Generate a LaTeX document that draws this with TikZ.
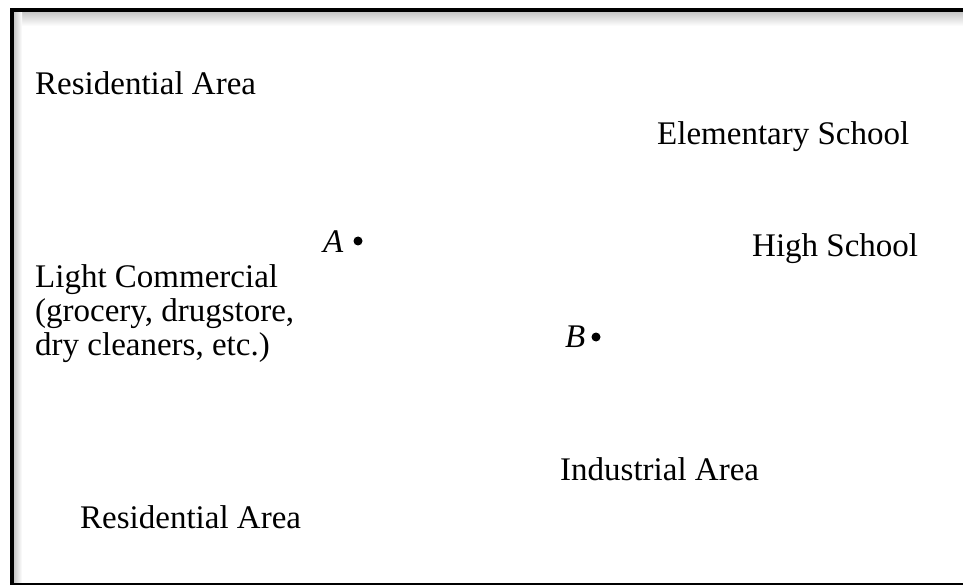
\documentclass[tikz,border=0pt]{standalone}
\usepackage{fontspec}
\setmainfont{Liberation Serif}
\usepackage{tikz}
\usetikzlibrary{positioning}

\begin{document}
\begin{tikzpicture}[
    x=1pt, y=-1pt,
    area/.style={anchor=base west, inner sep=0pt, align=left,
                 font=\fontsize{33}{34}\selectfont},
    site/.style={circle, fill=black, inner sep=0pt, minimum size=9pt},
    frame/.style={line width=#1, color=black}
]
\useasboundingbox (0,0) rectangle (963,585);

%% Frame with inner shadow
\shade[top color=black!22, bottom color=white] (14,12) rectangle (963,26);
\shade[left color=black!22, right color=white] (14,12) rectangle (22,584);
\draw[frame=4pt] (12,585) -- (12,10) -- (963,10);
\draw[frame=1.5pt] (10,584) -- (963,584);

%% Areas
\node[area] (resN) at (35,95) {Residential Area};
\node[area] (elem) at (657,145) {Elementary School};
\node[area] (high) at (752,256) {High School};
\node[area] (comm) at (35,355) {Light Commercial\\(grocery, drugstore,\\dry cleaners, etc.)};
\node[area] (ind) at (560,480) {Industrial Area};
\node[area] (resS) at (80,528) {Residential Area};

%% Sites
\node[area] (labA) at (323,253) {\textit{A}};
\node[site] (A) at (358,241) {};
\node[area] (labB) at (565,347) {\textit{B}};
\node[site] (B) at (596,337) {};

\end{tikzpicture}
\end{document}
